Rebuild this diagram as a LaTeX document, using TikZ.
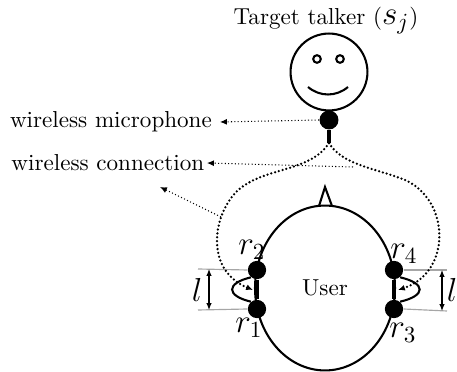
\documentclass[tikz,border=0pt]{standalone}
\usetikzlibrary{shapes.geometric,arrows.meta}
\begin{document}
\begin{tikzpicture}[x=0.433pt,y=-0.433pt,
  outline/.style={line width=0.9pt},
  earmic/.style={circle,fill=black,inner sep=0pt,minimum size=7.9pt},
  link/.style={line width=1.1pt,dash pattern=on 0pt off 1.7pt,line cap=round},
  pointer/.style={line width=0.45pt,densely dotted,-{Latex[length=3pt,width=2.6pt]}},
  dimline/.style={black!35,line width=0.5pt},
  spacing/.style={line width=0.5pt,{Latex[length=3pt,width=2.4pt]}-{Latex[length=3pt,width=2.4pt]}},
  mlabel/.style={inner sep=0pt,font=\Large}
]
\useasboundingbox (0,0) rectangle (457,372);

% target talker
\node[anchor=base,inner sep=0pt] (title) at (326,25) {Target talker ({\Large$s_j$})};
\node[circle,draw,outline,inner sep=0pt,minimum size=33.3pt] (face) at (329,72) {};
\node[circle,draw,outline,inner sep=0pt,minimum size=3.3pt] (eyeL) at (317,59) {};
\node[circle,draw,outline,inner sep=0pt,minimum size=3.3pt] (eyeR) at (340,59) {};
\draw[outline] (308,87) .. controls (320,97) and (336,97) .. (348,87);

% talker microphone
\node[earmic,minimum size=8.2pt] (tmic) at (329,120) {};
\coordinate (stem) at (329,143);
\draw[line width=1.7pt] (tmic.south) -- (stem);

% user head
\node[ellipse,draw,outline,inner sep=0pt,minimum width=60.6pt,minimum height=71.4pt] (head) at (325,288) {User};
\draw[outline,line join=miter] (319,206) -- (325,187) -- (332,206);

% hearing-aid microphones
\node[earmic] (r2) at (257,270) {};
\node[earmic] (r1) at (257,309) {};
\node[earmic] (r4) at (394,270) {};
\node[earmic] (r3) at (394,309) {};
\draw[line width=1.7pt] (r2) -- (r1);
\draw[line width=1.7pt] (r4) -- (r3);
\draw[outline] (r2.230) .. controls +(-25,6) and +(-25,-6) .. (r1.130);
\draw[outline] (r4.310) .. controls +(26,6) and +(26,-6) .. (r3.50);

\node[mlabel] (lr2) at (252,250) {$r_2$};
\node[mlabel] (lr1) at (249,328) {$r_1$};
\node[mlabel] (lr4) at (404,254) {$r_4$};
\node[mlabel] (lr3) at (403,333) {$r_3$};

% microphone spacing
\coordinate (lt) at (198,269);
\coordinate (lb) at (198,310);
\coordinate (rt) at (447,270);
\coordinate (rb) at (447,311);
\draw[dimline] (r2.west) -- (lt);
\draw[dimline] (r1.west) -- (lb);
\draw[dimline] (r4.east) -- (rt);
\draw[dimline] (r3.east) -- (rb);
\coordinate (lat) at (209,269);
\coordinate (lab) at (209,310);
\coordinate (rat) at (442,270);
\coordinate (rab) at (442,311);
\draw[spacing] (lat) -- (lab);
\draw[spacing] (rat) -- (rab);
\node[mlabel] (ll) at (197,290) {$l$};
\node[mlabel] (lrr) at (452,290) {$l$};

% wireless links
\coordinate (bl) at (245,185);
\coordinate (br) at (405,180);
\draw[link,-{Latex[length=3pt,width=2.6pt]}] (stem) .. controls (312,170) and (270,168) .. (bl)
  .. controls (215,203) and (200,268) .. (253,290);
\draw[link,-{Latex[length=3pt,width=2.6pt]}] (stem) .. controls (342,165) and (375,168) .. (br)
  .. controls (450,200) and (452,272) .. (398,290);

% annotations
\node[anchor=east] (wmic) at (220,122) {wireless microphone};
\node[anchor=east,inner sep=1pt] (wcon) at (207,163) {wireless connection};
\draw[pointer] (tmic.west) -- (wmic.east);
\coordinate (rc) at (353,167);
\coordinate (lc) at (221,217);
\coordinate (wtip) at (160,187);
\draw[pointer] (rc) -- (wcon.east);
\draw[pointer] (lc) -- (wtip);
\end{tikzpicture}
\end{document}
